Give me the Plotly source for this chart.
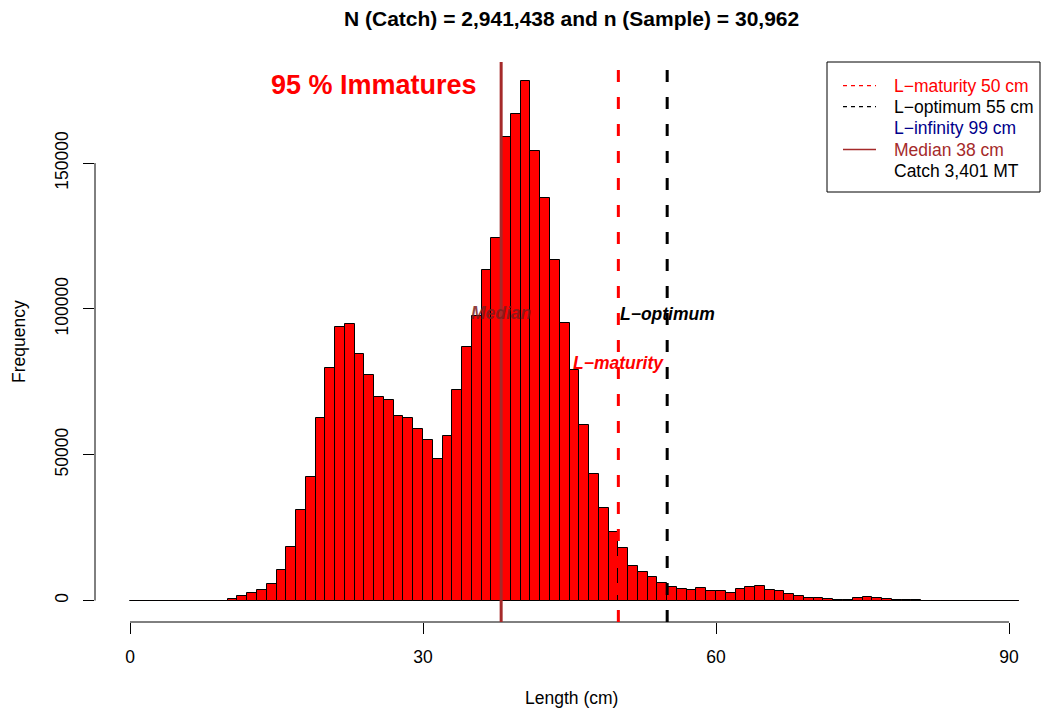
import plotly.graph_objects as go

# ---------------- data ----------------
length_bins = list(range(0, 91))  # lower edges of 1-cm classes
frequency = [
    0, 0, 0, 0, 0, 0, 0, 0, 0, 0,
    400, 1500, 2700, 3600, 5600, 10400, 18300, 30900, 42500, 62600,
    79900, 93900, 94900, 84700, 77200, 69800, 68600, 63200, 62700, 58800,
    55000, 48600, 56500, 72300, 87000, 97500, 113500, 124300, 159100, 167000,
    178100, 154300, 138000, 116800, 95000, 79200, 60300, 43500, 31700, 23500,
    18000, 11800, 9900, 8000, 5900, 4800, 4100, 3500, 4400, 3400,
    3200, 2500, 4100, 4500, 4900, 3700, 3400, 2400, 1700, 900,
    900, 500, 300, 200, 900, 1200, 1000, 500, 300, 300,
    100, 0, 0, 0, 0, 0, 0, 0, 0, 0, 0,
]
x_ticks = [0, 30, 60, 90]
y_ticks = [0, 50000, 100000, 150000]
y_ticklabels = ["0", "50000", "100000", "150000"]

median_len = 38
l_maturity = 50
l_optimum = 55
l_infinity = 99
catch_mt = "3,401"
title_text = "N (Catch) = 2,941,438 and n (Sample) = 30,962"
legend_items = [
    ("L\u2212maturity 50 cm", "red", "dash"),
    ("L\u2212optimum 55 cm", "black", "dash"),
    ("L\u2212infinity 99 cm", "darkblue", None),
    ("Median 38 cm", "#A52A2A", "solid"),
    ("Catch 3,401 MT", "black", None),
]

# ---------------- layout geometry ----------------
W_PX, H_PX = 1042, 711
L, R, T, B = 95, 0, 62, 89
PW = W_PX - L - R
PH = H_PX - T - B
X_ZERO_PX, PX_PER_CM = 130, 9.767
Y_ZERO_PX, PX_PER_UNIT = 600.5, 145.8 / 50000

x_lo = -(X_ZERO_PX - L) / PX_PER_CM
x_hi = x_lo + PW / PX_PER_CM
y_lo = -((T + PH) - Y_ZERO_PX) / PX_PER_UNIT
y_hi = (Y_ZERO_PX - T) / PX_PER_UNIT


def px(xp):
    return (xp - L) / PW


def py(yp):
    return (T + PH - yp) / PH


FONT = "Liberation Sans, Arial, Helvetica, sans-serif"
BROWN = "#A52A2A"

centers = [b + 0.5 for b in length_bins]

fig = go.Figure()
fig.add_trace(go.Bar(
    x=centers, y=frequency, width=1,
    marker=dict(color="red", line=dict(color="black", width=1)),
    showlegend=False, hoverinfo="x+y",
))

shapes = []
# zero-height class outline (baseline of histogram)
shapes.append(dict(type="line", xref="x", yref="y", x0=length_bins[0], x1=length_bins[-1] + 1,
                   y0=0, y1=0, line=dict(color="#5a1414", width=1), layer="below"))
# axis lines (R style, spanning tick range)
shapes.append(dict(type="line", xref="x", yref="paper", x0=x_ticks[0], x1=x_ticks[-1], y0=0, y1=0,
                   line=dict(color="black", width=1)))
shapes.append(dict(type="line", xref="paper", yref="y", x0=0, x1=0, y0=y_ticks[0], y1=y_ticks[-1],
                   line=dict(color="black", width=1)))
# reference lines
shapes.append(dict(type="line", xref="x", yref="paper", x0=median_len, x1=median_len, y0=0, y1=1,
                   line=dict(color=BROWN, width=3), layer="above"))
shapes.append(dict(type="line", xref="x", yref="paper", x0=l_maturity, x1=l_maturity, y0=0, y1=1,
                   line=dict(color="red", width=3, dash="12px,15px"), layer="above"))
shapes.append(dict(type="line", xref="x", yref="paper", x0=l_optimum, x1=l_optimum, y0=0, y1=1,
                   line=dict(color="black", width=3, dash="12px,15px"), layer="above"))

# legend box
shapes.append(dict(type="rect", xref="paper", yref="paper", x0=px(827), x1=px(1040), y0=py(192), y1=py(62),
                   fillcolor="white", line=dict(color="black", width=1), layer="above"))
row_y = [85.7, 106.7, 127.7, 149.5, 171]
annotations = []
for (label, color, style), ry in zip(legend_items, row_y):
    if style == "dash":
        shapes.append(dict(type="line", xref="paper", yref="paper", x0=px(843), x1=px(876), y0=py(ry), y1=py(ry),
                           line=dict(color=color, width=1.3, dash="4px,4px"), layer="above"))
    elif style == "solid":
        shapes.append(dict(type="line", xref="paper", yref="paper", x0=px(843), x1=px(876), y0=py(ry), y1=py(ry),
                           line=dict(color=color, width=1.5), layer="above"))
    annotations.append(dict(xref="paper", yref="paper", x=px(892), y=py(ry), text=label, showarrow=False,
                            xanchor="left", yanchor="middle", font=dict(family=FONT, size=17.5, color=color)))

# title
annotations.append(dict(xref="paper", yref="paper", x=px(571), y=py(18), text="<b>" + title_text + "</b>",
                        showarrow=False, xanchor="center", yanchor="middle",
                        font=dict(family=FONT, size=21, color="black")))
# axis titles
annotations.append(dict(xref="paper", yref="paper", x=px(571), y=py(698), text="Length (cm)",
                        showarrow=False, xanchor="center", yanchor="middle",
                        font=dict(family=FONT, size=17.5, color="black")))
annotations.append(dict(xref="paper", yref="paper", x=px(19), y=py(342), text="Frequency", textangle=-90,
                        showarrow=False, xanchor="center", yanchor="middle",
                        font=dict(family=FONT, size=17.5, color="black")))
# plot texts
annotations.append(dict(xref="x", yref="y", x=25, y=176800, text="<b>95 % Immatures</b>", showarrow=False,
                        xanchor="center", yanchor="middle", font=dict(family=FONT, size=27, color="red")))
annotations.append(dict(xref="x", yref="y", x=median_len, y=98600, text="<b><i>Median</i></b>", showarrow=False,
                        xanchor="center", yanchor="middle",
                        font=dict(family=FONT, size=17.5, color="rgba(125,30,30,0.85)")))
annotations.append(dict(xref="x", yref="y", x=l_optimum, y=98400, text="<b><i>L\u2212optimum</i></b>",
                        showarrow=False, xanchor="center", yanchor="middle",
                        font=dict(family=FONT, size=17.5, color="black")))
annotations.append(dict(xref="x", yref="y", x=l_maturity, y=81550, text="<b><i>L\u2212maturity</i></b>",
                        showarrow=False, xanchor="center", yanchor="middle",
                        font=dict(family=FONT, size=17.5, color="red")))

fig.update_layout(
    width=W_PX, height=H_PX,
    margin=dict(l=L, r=R, t=T, b=B, pad=0),
    paper_bgcolor="white", plot_bgcolor="white",
    bargap=0, showlegend=False,
    font=dict(family=FONT, size=17.5, color="black"),
    shapes=shapes, annotations=annotations,
    xaxis=dict(range=[x_lo, x_hi], tickvals=x_ticks, ticktext=[str(v) for v in x_ticks],
               showgrid=False, zeroline=False, showline=False,
               ticks="outside", ticklen=11, tickwidth=1, tickcolor="black",
               tickfont=dict(family=FONT, size=17.5, color="black"), ticklabelstandoff=8),
    yaxis=dict(range=[y_lo, y_hi], tickvals=y_ticks, ticktext=y_ticklabels, tickangle=-90,
               showgrid=False, zeroline=False, showline=False,
               ticks="outside", ticklen=11, tickwidth=1, tickcolor="black",
               tickfont=dict(family=FONT, size=17.5, color="black"), ticklabelstandoff=8),
)

fig.write_html("out.html")
